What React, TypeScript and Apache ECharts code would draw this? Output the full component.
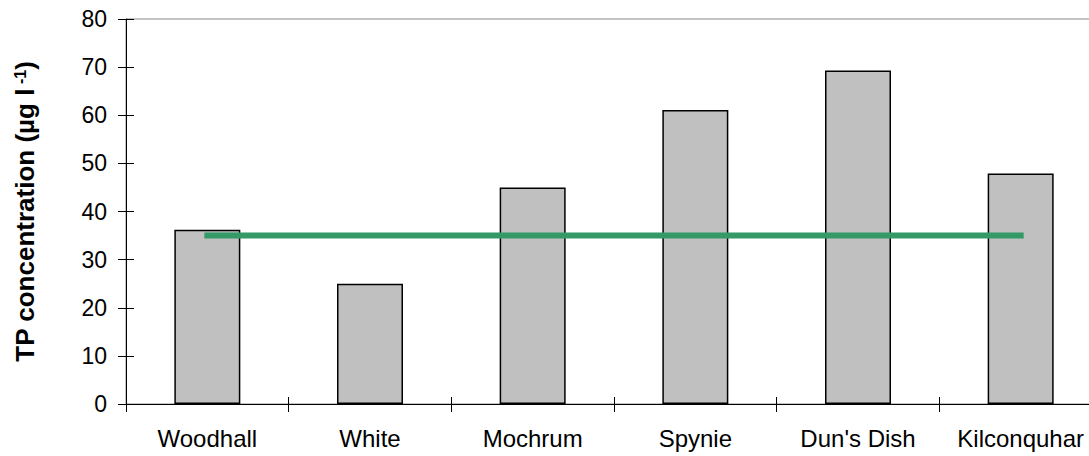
import React, { useEffect, useRef } from "react";
import * as echarts from "echarts";

const categories = ["Woodhall", "White", "Mochrum", "Spynie", "Dun's Dish", "Kilconquhar"];
const tpValues = [36.2, 25.0, 45.0, 61.1, 69.3, 47.9];
const targetValues = [35, 35, 35, 35, 35, 35];
const yTicks = { min: 0, max: 80, interval: 10 };

const FONT = "'Liberation Sans', Arial, sans-serif";

export default function App() {
  const ref = useRef<HTMLDivElement>(null);
  useEffect(() => {
    if (!ref.current) return;
    const chart = echarts.init(ref.current, null, { renderer: "svg" });
    const gridLeft = 126;
    const gridTop = 19;
    const gridW = 976;
    const gridH = 385;
    chart.setOption({
      animation: false,
      backgroundColor: "#fff",
      grid: {
        left: gridLeft,
        top: gridTop,
        width: gridW,
        height: gridH,
        show: true,
        borderColor: "#888",
        borderWidth: 1,
        containLabel: false,
        outerBoundsMode: "none",
      },
      xAxis: [
        {
          type: "category",
          data: categories,
          position: "bottom",
          axisLine: { show: true, lineStyle: { color: "#000", width: 1 } },
          axisTick: { show: true, length: 8, lineStyle: { color: "#000" } },
          axisLabel: { color: "#000", fontSize: 24, fontFamily: FONT, margin: 22, interval: 0, hideOverlap: false },
          splitLine: { show: false },
        },
        {
          type: "category",
          data: categories,
          position: "top",
          offset: -gridH,
          axisLine: { show: false },
          axisTick: { show: true, length: 7, lineStyle: { color: "#000" } },
          axisLabel: { show: false },
          splitLine: { show: false },
        },
      ],
      yAxis: [
        {
          type: "value",
          min: yTicks.min,
          max: yTicks.max,
          interval: yTicks.interval,
          position: "left",
          name: "{b|TP concentration (µg l}{s| -1}{b|)}",
          nameLocation: "middle",
          nameGap: 88,
          nameRotate: 90,
          nameTextStyle: {
            rich: {
              b: { fontSize: 26, fontWeight: "bold", fontFamily: FONT, color: "#000" },
              s: { fontSize: 16, fontWeight: "bold", fontFamily: FONT, color: "#000", verticalAlign: "top", lineHeight: 14 },
            },
          },
          axisLine: { show: true, lineStyle: { color: "#000", width: 1 } },
          axisTick: { show: true, length: 8, lineStyle: { color: "#000" } },
          axisLabel: { color: "#000", fontSize: 23, fontFamily: FONT, margin: 19 },
          splitLine: { show: false },
        },
        {
          type: "value",
          min: yTicks.min,
          max: yTicks.max,
          interval: yTicks.interval,
          position: "right",
          offset: -gridW,
          axisLine: { show: false },
          axisTick: { show: true, length: 8, lineStyle: { color: "#000" } },
          axisLabel: { show: false },
          splitLine: { show: false },
        },
      ],
      series: [
        {
          type: "bar",
          data: tpValues,
          barWidth: 66,
          itemStyle: { color: "#C0C0C0", borderColor: "#000", borderWidth: 1.5 },
        },
        {
          type: "line",
          data: targetValues,
          symbol: "none",
          lineStyle: { color: "#339966", width: 6, cap: "square" },
          z: 5,
        },
      ],
    });
    return () => chart.dispose();
  }, []);
  return <div ref={ref} style={{ width: 1089, height: 456, position: "absolute", left: 0, top: 0 }} />;
}
